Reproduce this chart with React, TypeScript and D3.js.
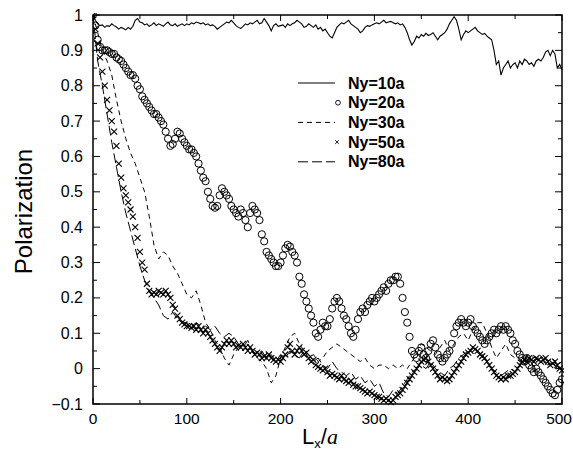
import React from "react";
import * as d3 from "d3";

// sample spacing (in Lx/a units) for each series
const STEP_FINE = 2.5;
const STEP_COARSE = 5;

// Ny=10a (solid line), every 2.5
const ny10 = [
  1.0, 0.985, 0.975, 0.97, 0.972, 0.965, 0.97, 0.968, 0.975, 0.97, 0.966, 0.96, 0.965, 0.962, 0.958, 0.965, 0.96, 0.968, 0.985, 0.99,
  0.98, 0.978, 0.972, 0.975, 0.968, 0.972, 0.978, 0.97, 0.975, 0.972, 0.968, 0.975, 0.98, 0.972, 0.97, 0.975, 0.968, 0.972, 0.975, 0.97,
  0.975, 0.972, 0.978, 0.975, 0.98, 0.978, 0.975, 0.978, 0.972, 0.975, 0.97, 0.972, 0.968, 0.96, 0.965, 0.97, 0.975, 0.98, 0.978, 0.985,
  0.978, 0.97, 0.965, 0.962, 0.968, 0.975, 0.972, 0.978, 0.975, 0.98, 0.985, 0.975, 0.978, 0.99, 0.98, 0.97, 0.955, 0.97, 0.975, 0.968,
  0.97, 0.972, 0.965, 0.975, 0.97, 0.975, 0.978, 0.985, 0.98, 0.975, 0.965, 0.968, 0.975, 0.97, 0.965, 0.972, 0.96, 0.965, 0.955, 0.96,
  0.95, 0.94, 0.935, 0.95, 0.965, 0.972, 0.978, 0.975, 0.98, 0.985, 0.975, 0.97, 0.965, 0.96, 0.95, 0.955, 0.965, 0.97, 0.968, 0.972,
  0.975, 0.978, 0.975, 0.98, 0.985, 0.978, 0.98, 0.982, 0.978, 0.975, 0.978, 0.972, 0.975, 0.965, 0.95, 0.93, 0.915, 0.925, 0.94, 0.935,
  0.945, 0.94, 0.948, 0.942, 0.945, 0.95, 0.94, 0.93, 0.94, 0.945, 0.95, 0.96, 0.975, 0.985, 0.995, 0.985, 0.96, 0.93, 0.945, 0.955,
  0.95, 0.955, 0.96, 0.965, 0.955, 0.95, 0.945, 0.948, 0.94, 0.935, 0.93, 0.9, 0.86, 0.87, 0.83, 0.85, 0.86, 0.87, 0.85, 0.86,
  0.865, 0.85, 0.87, 0.86, 0.875, 0.87, 0.86, 0.865, 0.855, 0.87, 0.875, 0.87, 0.88, 0.895, 0.9, 0.885, 0.9, 0.89, 0.85, 0.86,
  0.845,
];

// Ny=20a (circles), every 2.5
const ny20 = [
  1.0, 0.97, 0.93, 0.91, 0.9, 0.9, 0.9, 0.895, 0.89, 0.89, 0.88, 0.875, 0.87, 0.86, 0.85, 0.84, 0.83, 0.83, 0.82, 0.8,
  0.79, 0.77, 0.76, 0.75, 0.74, 0.73, 0.72, 0.72, 0.71, 0.7, 0.69, 0.67, 0.65, 0.63, 0.635, 0.65, 0.67, 0.665, 0.65, 0.64,
  0.63, 0.62, 0.62, 0.61, 0.6, 0.58, 0.56, 0.54, 0.53, 0.5, 0.48, 0.46, 0.455, 0.46, 0.49, 0.51, 0.5, 0.49, 0.48, 0.46,
  0.45, 0.44, 0.43, 0.45, 0.44, 0.42, 0.4, 0.44, 0.46, 0.45, 0.44, 0.42, 0.38, 0.36, 0.33, 0.32, 0.31, 0.3, 0.29, 0.29,
  0.3, 0.32, 0.34, 0.35, 0.345, 0.33, 0.32, 0.3, 0.26, 0.24, 0.21, 0.19, 0.17, 0.15, 0.13, 0.1, 0.09, 0.11, 0.13, 0.12,
  0.12, 0.14, 0.17, 0.19, 0.2, 0.19, 0.17, 0.15, 0.14, 0.12, 0.1, 0.09, 0.11, 0.14, 0.16, 0.17, 0.16, 0.18, 0.19, 0.2,
  0.19, 0.2, 0.21, 0.22, 0.23, 0.22, 0.24, 0.25, 0.25, 0.26, 0.26, 0.24, 0.2, 0.16, 0.13, 0.09, 0.05, 0.04, 0.03, 0.05,
  0.06, 0.04, 0.03, 0.05, 0.07, 0.08, 0.06, 0.04, 0.03, 0.02, 0.03, 0.04, 0.05, 0.07, 0.1, 0.12, 0.13, 0.14, 0.13, 0.12,
  0.13, 0.14, 0.12, 0.11, 0.1, 0.09, 0.08, 0.07, 0.08, 0.09, 0.1, 0.11, 0.1, 0.11, 0.12, 0.11, 0.12, 0.11, 0.1, 0.08,
  0.07, 0.05, 0.04, 0.03, 0.02, 0.03, 0.01, 0.0, -0.01, 0.0, -0.01, -0.02, -0.03, -0.04, -0.05, -0.06, -0.07, -0.075, -0.06, -0.04,
  -0.03,
];

// Ny=30a (short dashes), every 5
const ny30 = [
  1.0, 0.95, 0.9, 0.87, 0.83, 0.76, 0.7, 0.65, 0.61, 0.58, 0.54, 0.5, 0.43, 0.35, 0.31, 0.33, 0.32, 0.29, 0.27, 0.24,
  0.21, 0.2, 0.22, 0.18, 0.13, 0.11, 0.08, 0.06, 0.03, 0.01, 0.04, 0.06, 0.05, 0.07, 0.05, 0.03, 0.02, 0.0, -0.04, -0.02,
  0.03, 0.06, 0.09, 0.1, 0.07, 0.05, 0.03, 0.04, 0.02, 0.03, 0.05, 0.06, 0.07, 0.06, 0.05, 0.04, 0.03, 0.02, 0.03, 0.01,
  0.0, 0.01, 0.01, 0.0, 0.01, 0.0, 0.01, 0.0, 0.02, 0.04, 0.07, 0.06, 0.05, 0.04, 0.06, 0.08, 0.05, 0.07, 0.09, 0.1,
  0.08, 0.11, 0.13, 0.13, 0.1, 0.06, 0.03, 0.05, 0.07, 0.04, 0.03, 0.02, 0.03, 0.04, 0.03, 0.04, 0.03, 0.02, 0.03, 0.01,
  0.02,
];

// Ny=50a (crosses), every 2.5
const ny50 = [
  1.0, 0.96, 0.92, 0.88, 0.84, 0.8, 0.76, 0.73, 0.7, 0.67, 0.63, 0.58, 0.54, 0.51, 0.49, 0.47, 0.45, 0.43, 0.4, 0.37,
  0.33, 0.3, 0.28, 0.24, 0.22, 0.21, 0.215, 0.21, 0.22, 0.215, 0.21, 0.22, 0.21, 0.2, 0.18, 0.17, 0.15, 0.14, 0.13, 0.125,
  0.12, 0.12, 0.115, 0.12, 0.11, 0.12, 0.11, 0.1, 0.11, 0.1, 0.09, 0.08, 0.07, 0.06, 0.05, 0.06, 0.07, 0.08, 0.07, 0.08,
  0.07, 0.06, 0.065, 0.06, 0.07, 0.06, 0.05, 0.06, 0.05, 0.04, 0.045, 0.04, 0.03, 0.035, 0.03, 0.04, 0.03, 0.025, 0.02, 0.025,
  0.02, 0.03, 0.04, 0.06, 0.07, 0.05, 0.04, 0.05, 0.06, 0.05, 0.04, 0.045, 0.03, 0.02, 0.025, 0.01, 0.005, 0.0, -0.005, 0.0,
  -0.01, -0.02, -0.015, -0.02, -0.025, -0.03, -0.02, -0.03, -0.035, -0.04, -0.035, -0.045, -0.05, -0.05, -0.055, -0.06, -0.065, -0.07, -0.065, -0.07,
  -0.075, -0.08, -0.08, -0.085, -0.09, -0.085, -0.09, -0.095, -0.09, -0.08, -0.075, -0.07, -0.06, -0.05, -0.04, -0.03, -0.02, -0.01, 0.0, 0.01,
  0.02, 0.025, 0.03, 0.02, 0.01, 0.0, -0.01, -0.02, -0.03, -0.025, -0.03, -0.035, -0.03, -0.02, -0.01, 0.0, 0.01, 0.02, 0.03, 0.04,
  0.045, 0.05, 0.06, 0.055, 0.05, 0.04, 0.035, 0.03, 0.02, 0.01, 0.0, -0.01, -0.02, -0.025, -0.03, -0.025, -0.03, -0.02, -0.02, -0.015,
  -0.01, 0.0, 0.01, 0.02, 0.025, 0.02, 0.03, 0.025, 0.02, 0.03, 0.025, 0.02, 0.025, 0.03, 0.02, 0.01, 0.015, 0.02, 0.01, 0.0,
  -0.005,
];

// Ny=80a (long dashes), every 5
const ny80 = [
  1.0, 0.87, 0.8, 0.72, 0.64, 0.57, 0.5, 0.44, 0.39, 0.34, 0.29, 0.25, 0.22, 0.2, 0.18, 0.15, 0.14, 0.16, 0.14, 0.13,
  0.13, 0.12, 0.13, 0.12, 0.12, 0.11, 0.12, 0.1, 0.09, 0.1, 0.09, 0.07, 0.06, 0.08, 0.05, 0.04, 0.05, 0.03, 0.04, 0.02,
  0.04, 0.03, 0.05, 0.04, 0.03, 0.05, 0.04, 0.02, 0.03, 0.01, 0.0, 0.02, 0.0, -0.01, -0.02, -0.01, -0.03, -0.02, -0.04, -0.03,
  -0.05, -0.04, -0.07, -0.08, -0.06, -0.07, -0.05, -0.03, -0.01, 0.0, 0.01, 0.0, 0.02, 0.0, -0.01, -0.02, 0.0, 0.01, 0.03, 0.04,
  0.05, 0.06, 0.05, 0.04, 0.02, 0.0, -0.01, -0.02, -0.01, 0.0, -0.01, 0.01, 0.02, 0.03, 0.02, 0.03, 0.02, 0.01, 0.02, 0.0,
  0.01,
];

const xTicks = [0, 100, 200, 300, 400, 500];
const yTicks = [-0.1, 0, 0.1, 0.2, 0.3, 0.4, 0.5, 0.6, 0.7, 0.8, 0.9, 1];
const legendLabels = ["Ny=10a", "Ny=20a", "Ny=30a", "Ny=50a", "Ny=80a"];

const W = 573;
const H = 452;
const L = 93, R = 562, T = 15, B = 404;
const FONT = "'Liberation Sans', Arial, Helvetica, sans-serif";

type Pt = [number, number];
const toPts = (vals: number[], step: number): Pt[] => vals.map((v, i) => [i * step, v]);

export default function App() {
  const x = d3.scaleLinear().domain([0, 500]).range([L, R]);
  const y = d3.scaleLinear().domain([-0.1, 1]).range([B, T]);
  const line = d3.line<Pt>().x((d) => x(d[0])).y((d) => y(d[1]));

  const p10 = toPts(ny10, STEP_FINE);
  const p20 = toPts(ny20, STEP_FINE);
  const p30 = toPts(ny30, STEP_COARSE);
  const p50 = toPts(ny50, STEP_FINE);
  const p80 = toPts(ny80, STEP_COARSE);

  const xMinor = d3.range(0, 501, 50);
  const yMinor = d3.range(-0.1, 1.001, 0.05);
  const fmtY = (v: number) => (Math.abs(v) < 1e-9 ? "0" : String(+v.toFixed(1)).replace("-", "\u2212"));

  const crossPath = "M-3,-3L3,3M-3,3L3,-3";
  const legX0 = 298, legX1 = 335, legText = 348, legY0 = 83, legDy = 19.7;

  return (
    <svg width={W} height={H} style={{ position: "absolute", left: 0, top: 0, background: "#fff" }} fontFamily={FONT}>
      <rect x={0} y={0} width={W} height={H} fill="#fff" />
      <defs>
        <clipPath id="plotClip">
          <rect x={L} y={T - 2} width={R - L + 2} height={B - T + 4} />
        </clipPath>
      </defs>

      {/* data */}
      <g clipPath="url(#plotClip)">
        <path d={line(p80) || ""} fill="none" stroke="#000" strokeWidth={1} strokeDasharray="10,4" />
        <path d={line(p30) || ""} fill="none" stroke="#000" strokeWidth={1} strokeDasharray="5,4" />
        <path d={line(p10) || ""} fill="none" stroke="#000" strokeWidth={1.1} />
        {p50.map((d, i) => (
          <path key={"c" + i} d={crossPath} transform={`translate(${x(d[0])},${y(d[1])})`} stroke="#000" strokeWidth={1.1} fill="none" />
        ))}
        {p20.map((d, i) => (
          <circle key={"o" + i} cx={x(d[0])} cy={y(d[1])} r={3.6} fill="none" stroke="#000" strokeWidth={1} />
        ))}
      </g>

      {/* frame */}
      <rect x={L} y={T} width={R - L} height={B - T} fill="none" stroke="#000" strokeWidth={1.5} />

      {/* ticks */}
      {xMinor.map((v) => {
        const major = v % 100 === 0;
        const len = major ? 6 : 4;
        return (
          <g key={"xt" + v}>
            <line x1={x(v)} x2={x(v)} y1={B} y2={B - len} stroke="#000" strokeWidth={1} />
            <line x1={x(v)} x2={x(v)} y1={T} y2={T + len} stroke="#000" strokeWidth={1} />
          </g>
        );
      })}
      {yMinor.map((v, i) => {
        const major = i % 2 === 0;
        const len = major ? 7 : 4;
        return (
          <g key={"yt" + i}>
            <line x1={L} x2={L + len} y1={y(v)} y2={y(v)} stroke="#000" strokeWidth={1} />
            <line x1={R} x2={R - len} y1={y(v)} y2={y(v)} stroke="#000" strokeWidth={1} />
          </g>
        );
      })}

      {/* tick labels */}
      {xTicks.map((v, i) => {
        const last = i === xTicks.length - 1;
        return (
          <text
            key={"xl" + v}
            x={last ? W - 1 : x(v)}
            y={424}
            textAnchor={last ? "end" : "middle"}
            fontSize={15.5}
            fill="#000"
          >
            {v}
          </text>
        );
      })}
      {yTicks.map((v) => (
        <text key={"yl" + v} x={83} y={y(v) + 5.5} textAnchor="end" fontSize={16} fill="#000">
          {fmtY(v)}
        </text>
      ))}

      {/* axis titles */}
      <text transform={`translate(32,${(T + B) / 2 + 2}) rotate(-90)`} textAnchor="middle" fontSize={24} fill="#000">
        Polarization
      </text>
      <text x={320} y={444} textAnchor="middle" fontSize={22} fill="#000">
        L<tspan fontSize={13} dy={4}>x</tspan>
        <tspan dy={-4}>/</tspan>
        <tspan fontStyle="italic" fontFamily="'Liberation Serif', 'Times New Roman', serif">a</tspan>
      </text>

      {/* legend */}
      {legendLabels.map((lab, i) => {
        const ly = legY0 + i * legDy;
        return (
          <g key={lab}>
            {i === 0 && <line x1={legX0} x2={legX1} y1={ly} y2={ly} stroke="#000" strokeWidth={1.1} />}
            {i === 1 && <circle cx={338} cy={ly} r={2.4} fill="none" stroke="#000" strokeWidth={0.9} />}
            {i === 2 && <line x1={legX0} x2={legX1} y1={ly} y2={ly} stroke="#000" strokeWidth={1} strokeDasharray="5,4" />}
            {i === 3 && (
              <path d="M-1.8,-1.8L1.8,1.8M-1.8,1.8L1.8,-1.8" transform={`translate(337,${ly})`} stroke="#000" strokeWidth={0.9} />
            )}
            {i === 4 && <line x1={legX0} x2={legX1} y1={ly} y2={ly} stroke="#000" strokeWidth={1} strokeDasharray="10,4" />}
            <text x={legText} y={ly + 5.5} fontSize={16} fontWeight="bold" fill="#000">
              {lab}
            </text>
          </g>
        );
      })}
    </svg>
  );
}
